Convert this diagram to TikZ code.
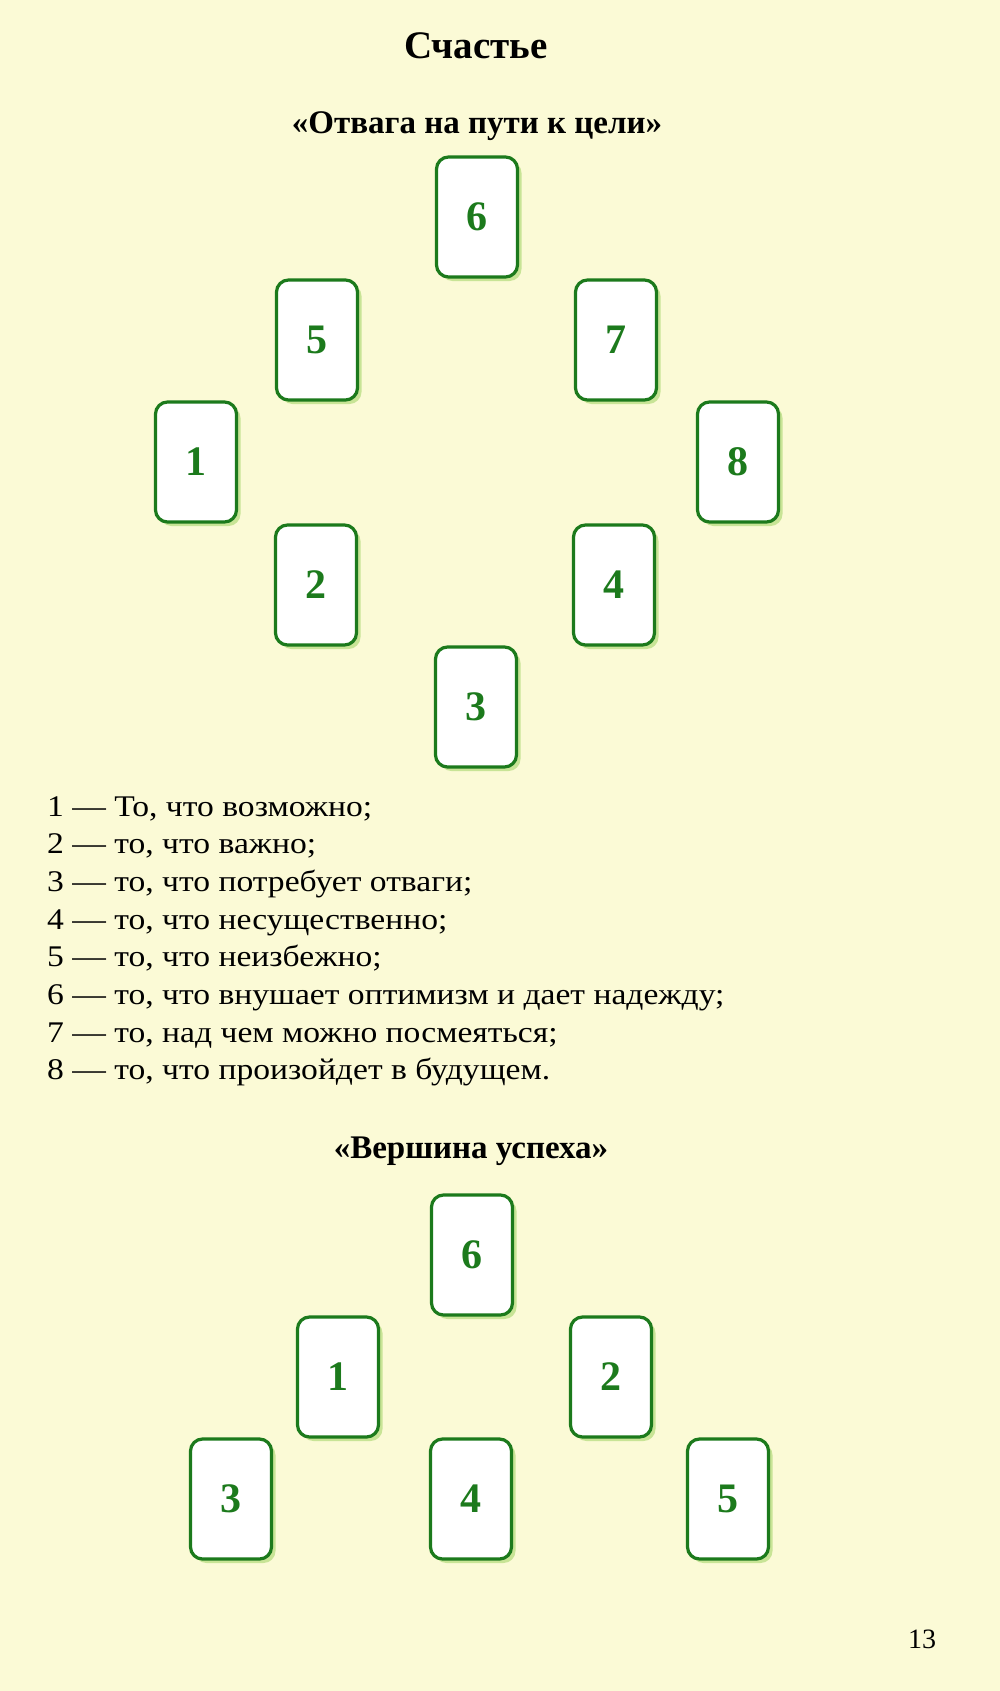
\documentclass[tikz,border=0pt]{standalone}
\usepackage{fontspec}
\setmainfont{Liberation Serif}
\newfontfamily\bodyfont[FakeStretch=1.12]{Liberation Serif}
\usetikzlibrary{shadows}
\definecolor{pagebg}{RGB}{251,250,214}
\definecolor{cardgreen}{RGB}{28,122,28}
\definecolor{shadowgreen}{RGB}{200,228,150}
\tikzset{
  card/.style={draw=cardgreen, line width=3.2pt, fill=white, rounded corners=12pt,
    minimum width=81pt, minimum height=120pt, inner sep=0pt,
    text=cardgreen, font=\fontsize{42}{42}\selectfont\bfseries,
    drop shadow={shadow xshift=4pt, shadow yshift=-4pt, fill=shadowgreen, opacity=1}},
  heading/.style={anchor=base, font=\fontsize{33}{38}\selectfont\bfseries},
  item/.style={anchor=base west, inner sep=0pt, font=\bodyfont\fontsize{30}{34}\selectfont}
}
\begin{document}
\begin{tikzpicture}[x=1pt,y=-1pt]
      \fill[pagebg] (0,0) rectangle (1000,1691);
      \useasboundingbox (0,0) rectangle (1000,1691);
      \node[anchor=base, font=\fontsize{39}{44}\selectfont\bfseries] (title) at (476,59) {Счастье};
      % first spread
      \node[heading] (spreadA) at (477,133) {«Отвага на пути к цели»};
      \node[card] (a6) at (477,217) {\raisebox{-3pt}{6}};
      \node[card] (a5) at (317,340) {\raisebox{-3pt}{5}};
      \node[card] (a7) at (616,340) {\raisebox{-3pt}{7}};
      \node[card] (a1) at (196,462) {\raisebox{-3pt}{1}};
      \node[card] (a8) at (738,462) {\raisebox{-3pt}{8}};
      \node[card] (a2) at (316,585) {\raisebox{-3pt}{2}};
      \node[card] (a4) at (614,585) {\raisebox{-3pt}{4}};
      \node[card] (a3) at (476,707) {\raisebox{-3pt}{3}};
      \node[item] (l1) at (47,816) {1 — То, что возможно;};
      \node[item] (l2) at (47,853.7) {2 — то, что важно;};
      \node[item] (l3) at (47,891.4) {3 — то, что потребует отваги;};
      \node[item] (l4) at (47,929.1) {4 — то, что несущественно;};
      \node[item] (l5) at (47,966.8) {5 — то, что неизбежно;};
      \node[item] (l6) at (47,1004.5) {6 — то, что внушает оптимизм и дает надежду;};
      \node[item] (l7) at (47,1042.2) {7 — то, над чем можно посмеяться;};
      \node[item] (l8) at (47,1079.9) {8 — то, что произойдет в будущем.};
      % second spread
      \node[heading] (spreadB) at (471,1158) {«Вершина успеха»};
      \node[card] (b6) at (472,1255) {\raisebox{-3pt}{6}};
      \node[card] (b1) at (338,1377) {\raisebox{-3pt}{1}};
      \node[card] (b2) at (611,1377) {\raisebox{-3pt}{2}};
      \node[card] (b3) at (231,1499) {\raisebox{-3pt}{3}};
      \node[card] (b4) at (471,1499) {\raisebox{-3pt}{4}};
      \node[card] (b5) at (728,1499) {\raisebox{-3pt}{5}};
      \node[anchor=base, font=\fontsize{28}{32}\selectfont] (page) at (922,1648) {13};
\end{tikzpicture}
\end{document}
